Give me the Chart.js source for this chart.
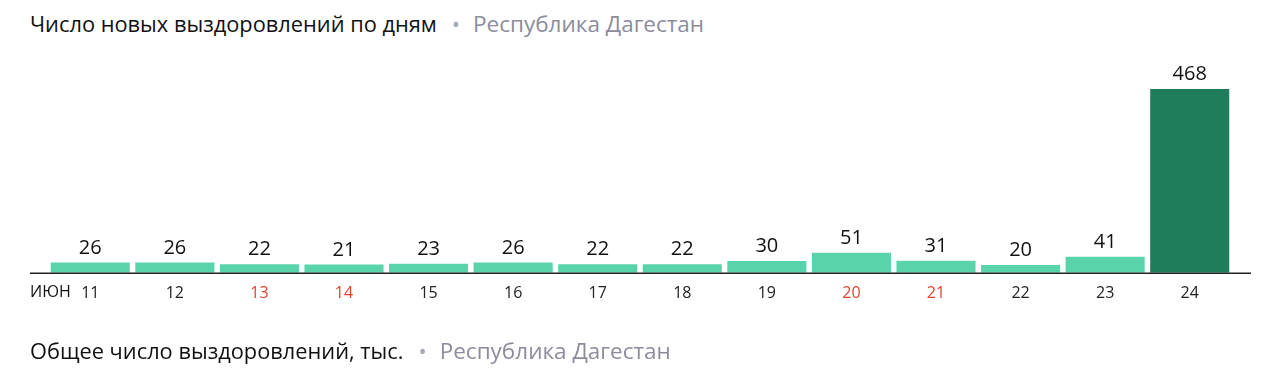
<!DOCTYPE html>
<html>
<head>
<meta charset="utf-8">
<script src="https://cdn.jsdelivr.net/npm/chart.js@4"></script>
<style>
  html, body { margin: 0; padding: 0; background: #fff; }
  #wrap { position: relative; width: 1280px; height: 374px; overflow: hidden; }
  #chart { position: absolute; left: 0; top: 0; }
  .title { position: absolute; left: 30px; font-family: "Open Sans", sans-serif; font-size: 21.8px; color: #111; white-space: nowrap; }
  .title .dot { color: #a9a9b3; margin: 0 13px 0 15px; }
  .title .region { color: #8c8c9c; font-size: 22.5px; }
</style>
</head>
<body>
<div id="wrap">
  <div class="title" style="top:8px">Число новых выздоровлений по дням<span class="dot">•</span><span class="region">Республика Дагестан</span></div>
  <canvas id="chart" width="1280" height="374"></canvas>
  <div class="title" style="top:335px">Общее число выздоровлений, тыс.<span class="dot">•</span><span class="region">Республика Дагестан</span></div>
</div>
<script>
var days = ['11', '12', '13', '14', '15', '16', '17', '18', '19', '20', '21', '22', '23', '24'];
var recovered = [26, 26, 22, 21, 23, 26, 22, 22, 30, 51, 31, 20, 41, 468];
var weekendDays = ['13', '14', '20', '21'];
var monthLabel = 'ИЮН';

var barColors = recovered.map(function (v, i) {
  return i === recovered.length - 1 ? '#1f7d5b' : '#58d3aa';
});

// value labels, baseline line and month name
var extras = {
  id: 'extras',
  afterDatasetsDraw: function (chart) {
    var ctx = chart.ctx;
    var area = chart.chartArea;
    var meta = chart.getDatasetMeta(0);
    ctx.save();
    ctx.font = '20px "Open Sans", sans-serif';
    ctx.fillStyle = '#111';
    ctx.textAlign = 'center';
    ctx.textBaseline = 'alphabetic';
    meta.data.forEach(function (bar, i) {
      ctx.fillText(String(recovered[i]), bar.x, bar.y - 9);
    });

    ctx.strokeStyle = '#222';
    ctx.lineWidth = 1.5;
    ctx.beginPath();
    ctx.moveTo(30, area.bottom + 0.5);
    ctx.lineTo(1251, area.bottom + 0.5);
    ctx.stroke();

    ctx.font = '16px "Open Sans", sans-serif';
    ctx.textAlign = 'left';
    ctx.textBaseline = 'middle';
    ctx.fillStyle = '#111';
    ctx.fillText(monthLabel, 30, area.bottom + 20);
    ctx.restore();
  }
};

var ctx = document.getElementById('chart').getContext('2d');
var chart = new Chart(ctx, {
  type: 'bar',
  data: {
    labels: days,
    datasets: [{
      data: recovered,
      backgroundColor: barColors,
      borderWidth: 0,
      barPercentage: 0.935,
      categoryPercentage: 1.0
    }]
  },
  options: {
    responsive: false,
    animation: false,
    layout: {
      padding: { left: 48, right: 48, top: 89, bottom: 60 }
    },
    plugins: {
      legend: { display: false },
      tooltip: { enabled: false }
    },
    scales: {
      x: {
        grid: { display: false, drawTicks: false },
        border: { display: false },
        ticks: {
          padding: 11,
          font: { family: '"Open Sans", sans-serif', size: 16 },
          color: function (c) {
            return weekendDays.indexOf(days[c.index]) >= 0 ? '#e2432f' : '#222';
          }
        }
      },
      y: {
        display: false,
        min: 0,
        max: 468
      }
    }
  },
  plugins: [extras]
});
</script>
</body>
</html>
